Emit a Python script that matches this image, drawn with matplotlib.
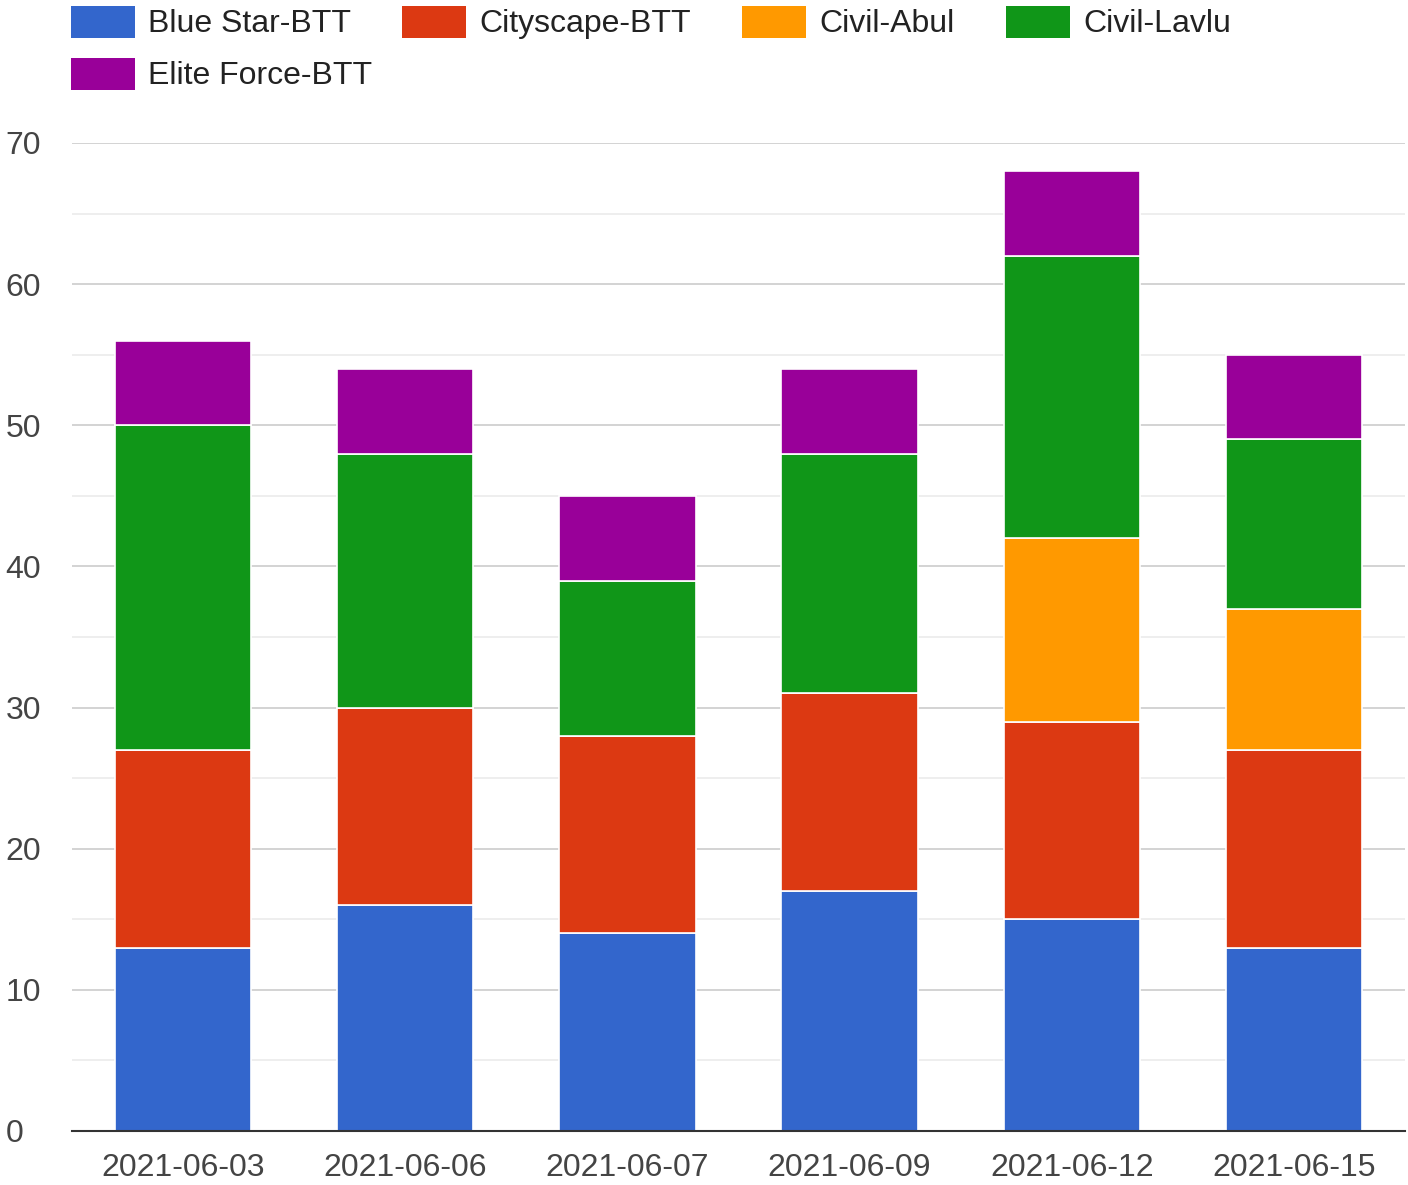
import matplotlib.pyplot as plt
from matplotlib.patches import Rectangle

plt.rcParams['font.family'] = ['Liberation Sans', 'DejaVu Sans']

dates = ['2021-06-03', '2021-06-06', '2021-06-07', '2021-06-09', '2021-06-12', '2021-06-15']
series = ['Blue Star-BTT', 'Cityscape-BTT', 'Civil-Abul', 'Civil-Lavlu', 'Elite Force-BTT']
blue_star = [13, 16, 14, 17, 15, 13]
cityscape = [14, 14, 14, 14, 14, 14]
civil_abul = [0, 0, 0, 0, 13, 10]
civil_lavlu = [23, 18, 11, 17, 20, 12]
elite_force = [6, 6, 6, 6, 6, 6]
colors = ['#3366cc', '#dc3912', '#ff9900', '#109618', '#990099']

W, H = 1408, 1185
fig = plt.figure(figsize=(W / 100, H / 100), dpi=100)
ax = fig.add_axes([72 / W, 1 - 1131 / H, 1333 / W, (1131 - 143) / H])

x = range(len(dates))
bottom = [0] * len(dates)
for vals, col in zip([blue_star, cityscape, civil_abul, civil_lavlu, elite_force], colors):
    ax.bar(x, vals, bottom=bottom, width=0.613, color=col, edgecolor='white',
           linewidth=1.2, zorder=3)
    bottom = [b + v for b, v in zip(bottom, vals)]

ax.set_xlim(-0.5, len(dates) - 0.5)
ax.set_ylim(0, 70)
ax.set_yticks(range(0, 71, 10))
ax.set_yticks(range(5, 70, 10), minor=True)
ax.grid(axis='y', which='major', color='#cccccc', linewidth=1.2, zorder=0)
ax.grid(axis='y', which='minor', color='#ebebeb', linewidth=1.2, zorder=0)
ax.set_xticks(list(x))
ax.set_xticklabels(dates)
ax.tick_params(axis='both', which='both', length=0, labelsize=23, labelcolor='#444444')
ax.tick_params(axis='x', pad=16)
ax.tick_params(axis='y', pad=48)
for lab in ax.get_yticklabels():
    lab.set_horizontalalignment('left')
for s in ['top', 'right', 'left']:
    ax.spines[s].set_visible(False)
ax.spines['bottom'].set_color('#333333')
ax.spines['bottom'].set_linewidth(1.5)
ax.spines['bottom'].set_zorder(4)

# legend laid out like the Google chart
legend_pos = [(71, 6), (402, 6), (742, 6), (1006, 6), (71, 58)]
for (lx, ly), name, col in zip(legend_pos, series, colors):
    fig.add_artist(Rectangle((lx / W, 1 - (ly + 32) / H), 64 / W, 32 / H,
                             transform=fig.transFigure, facecolor=col, edgecolor='none'))
    fig.text((lx + 77) / W, 1 - (ly + 18) / H, name, fontsize=23, color='#222222',
             va='center', ha='left')

fig.savefig('out.png', dpi=100)
